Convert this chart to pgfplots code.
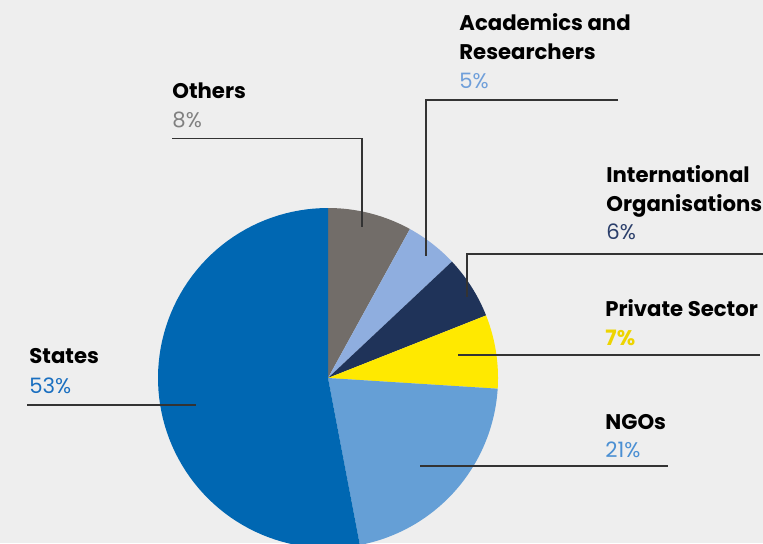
\documentclass[border=0pt]{standalone}
\usepackage{pgfplots}
\pgfplotsset{compat=1.18}
\usepackage{fontspec}
\setmainfont{Poppins}
\definecolor{bg}{HTML}{EEEEEE}
\definecolor{cOthers}{HTML}{726D69}
\definecolor{cAcad}{HTML}{8FAEDF}
\definecolor{cIntl}{HTML}{1F3359}
\definecolor{cPriv}{HTML}{FFE900}
\definecolor{cNGO}{HTML}{659FD6}
\definecolor{cStates}{HTML}{0067B2}
\definecolor{tOthers}{HTML}{808080}
\definecolor{tAcad}{HTML}{6F9FDA}
\definecolor{tIntl}{HTML}{2B3F6B}
\definecolor{tPriv}{HTML}{EDD400}
\definecolor{tStates}{HTML}{1A6FC0}
\definecolor{tNGO}{HTML}{4A8FD3}
\definecolor{lead}{HTML}{333333}
\def\angA{90}
\newcommand{\pieslice}[2]{%
  \pgfmathsetmacro{\angB}{\angA-3.6*#1}%
  \edef\temp{\noexpand\addplot[fill=#2,draw=none,domain=\angB:\angA,samples=80,variable=\noexpand\t] ({328+170*cos(\noexpand\t)},{165+170*sin(\noexpand\t)}) -- (axis cs:328,165) -- cycle;}%
  \temp
  \global\let\angA\angB
}
\newcommand{\lab}[4]{\node[anchor=base west,inner sep=0pt,text=#3,font=\fontsize{10.6}{12}\selectfont#4] at (axis cs:#1) {#2};}
\begin{document}
\begin{tikzpicture}
\begin{axis}[
  scale only axis, width=381.5pt, height=271.5pt,
  xmin=0, xmax=763, ymin=0, ymax=543,
  hide axis, clip=true]
\fill[bg] (axis cs:0,0) rectangle (axis cs:763,543);
\pieslice{8}{cOthers}
\pieslice{5}{cAcad}
\pieslice{6}{cIntl}
\pieslice{7}{cPriv}
\pieslice{21}{cNGO}
\pieslice{53}{cStates}
% leader lines
\draw[lead,line width=0.55pt] (axis cs:172,404.5) -- (axis cs:362,404.5) -- (axis cs:362,316);
\draw[lead,line width=0.55pt] (axis cs:618,443) -- (axis cs:426,443) -- (axis cs:426,287);
\draw[lead,line width=0.55pt] (axis cs:763,289) -- (axis cs:467,289) -- (axis cs:467,246);
\draw[lead,line width=0.55pt] (axis cs:458,188) -- (axis cs:760,188);
\draw[lead,line width=0.55pt] (axis cs:420,77) -- (axis cs:668,77);
\draw[lead,line width=0.55pt] (axis cs:27,138) -- (axis cs:196,138);
% labels
\lab{172,444.5}{Others}{black}{\bfseries}
\lab{172,415.5}{8\%}{tOthers}{}
\lab{459,512.5}{Academics and}{black}{\bfseries}
\lab{459,483.5}{Researchers}{black}{\bfseries}
\lab{459,454.5}{5\%}{tAcad}{}
\lab{606,360.5}{International}{black}{\bfseries}
\lab{606,331.5}{Organisations}{black}{\bfseries}
\lab{606,303.5}{6\%}{tIntl}{}
\lab{605,226.5}{Private Sector}{black}{\bfseries}
\lab{605,198}{7\%}{tPriv}{\bfseries}
\lab{29,179.5}{States}{black}{\bfseries}
\lab{29,150}{53\%}{tStates}{}
\lab{605,114}{NGOs}{black}{\bfseries}
\lab{605,85.5}{21\%}{tNGO}{}
\end{axis}
\end{tikzpicture}
\end{document}
